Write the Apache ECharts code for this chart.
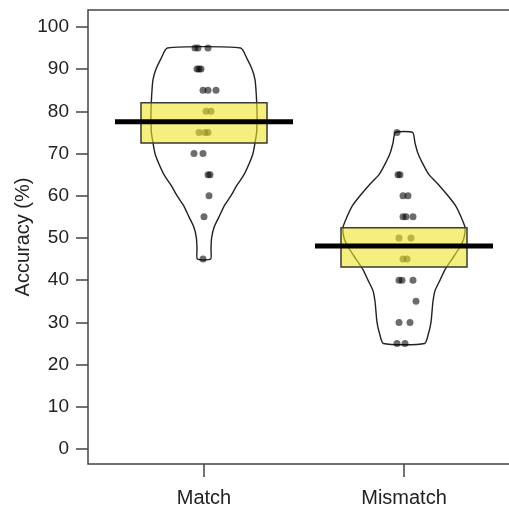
<!DOCTYPE html>
<html>
<head>
<meta charset="utf-8">
<script src="https://cdn.jsdelivr.net/npm/echarts@6/dist/echarts.min.js"></script>
<style>
  html, body { margin: 0; padding: 0; background: #ffffff; }
  #chart { width: 509px; height: 505px; }
</style>
</head>
<body>
<div id="chart"></div>
<script>
// ---------- data ----------
const categories = ['Match', 'Mismatch'];
const catPos = [1, 2];
const yTicks = [0, 10, 20, 30, 40, 50, 60, 70, 80, 90, 100];

// individual observations: jittered x (category units) and accuracy (%)
const matchX = [0.955, 0.97, 1.02, 0.965, 0.975, 0.985, 0.995, 1.02, 1.06, 1.01, 1.035, 0.975, 1.005, 1.02, 0.95, 0.995, 1.02, 1.03, 1.025, 1.0, 0.995];
const matchY = [95, 95, 95, 90, 90, 90, 85, 85, 85, 80, 80, 75, 75, 75, 70, 70, 65, 65, 60, 55, 45];
const mismatchX = [1.965, 1.97, 1.98, 1.995, 2.02, 1.995, 2.01, 2.045, 1.975, 2.035, 1.995, 2.015, 1.975, 1.99, 2.045, 2.06, 1.975, 2.03, 1.965, 2.005];
const mismatchY = [75, 65, 65, 60, 60, 55, 55, 55, 50, 50, 45, 45, 40, 40, 40, 35, 30, 30, 25, 25];

// bean (density) outline: levels and half-widths (category units)
const matchLevels = [45, 47.5, 50, 52.5, 55, 57.5, 60, 62.5, 65, 67.5, 70, 72.5, 75, 77.5, 80, 82.5, 85, 87.5, 90, 92.5, 95];
const matchHalfWidth = [0.033, 0.035, 0.038, 0.05, 0.075, 0.10, 0.135, 0.165, 0.20, 0.225, 0.245, 0.255, 0.263, 0.265, 0.265, 0.263, 0.26, 0.255, 0.24, 0.215, 0.183];
const mismatchLevels = [25, 27.5, 30, 32.5, 35, 37.5, 40, 42.5, 45, 47.5, 50, 52.5, 55, 57.5, 60, 62.5, 65, 67.5, 70, 72.5, 75];
const mismatchHalfWidth = [0.103, 0.123, 0.135, 0.14, 0.145, 0.155, 0.18, 0.205, 0.24, 0.275, 0.30, 0.305, 0.285, 0.26, 0.22, 0.175, 0.125, 0.095, 0.07, 0.055, 0.043];

// means and inference bands
const means = [77.5, 48.1];
const bandLow = [72.5, 43.1];
const bandHigh = [82.0, 52.4];

// ---------- build chart ----------
const levels = [matchLevels, mismatchLevels];
const halfWidths = [matchHalfWidth, mismatchHalfWidth];
const pointSets = [
  matchX.map((x, i) => [x, matchY[i]]),
  mismatchX.map((x, i) => [x, mismatchY[i]])
];

const BAND_HALF = 0.315;
const LINE_HALF = 0.445;
const FONT = '"Liberation Sans", Arial, sans-serif';

const chart = echarts.init(document.getElementById('chart'), null, { renderer: 'canvas' });

chart.setOption({
  animation: false,
  backgroundColor: '#ffffff',
  grid: {
    left: 88, top: 10, width: 432, height: 454,
    outerBoundsMode: 'none', containLabel: false,
    show: true, borderColor: '#444', borderWidth: 1.5, backgroundColor: 'transparent'
  },
  xAxis: {
    type: 'value', min: 0.42, max: 2.58,
    axisLine: { show: false, onZero: false },
    splitLine: { show: false },
    axisTick: { show: true, length: 13, customValues: catPos, lineStyle: { color: '#444', width: 1.5 } },
    axisLabel: {
      customValues: catPos, margin: 24, fontSize: 20, color: '#222', fontFamily: FONT,
      formatter: v => categories[catPos.indexOf(v)]
    }
  },
  yAxis: {
    type: 'value', min: -3.55, max: 104.0,
    name: 'Accuracy (%)', nameLocation: 'middle', nameGap: 55, nameMoveOverlap: false,
    nameTextStyle: { fontSize: 20, color: '#222', fontFamily: FONT },
    axisLine: { show: false, onZero: false },
    splitLine: { show: false },
    axisTick: { show: true, length: 12, customValues: yTicks, lineStyle: { color: '#444', width: 1.5 } },
    axisLabel: { customValues: yTicks, margin: 19, fontSize: 19, color: '#222', fontFamily: FONT }
  },
  series: [
    {
      type: 'custom', z: 1, silent: true,
      data: categories.map((c, i) => [catPos[i], i]),
      encode: { x: 0, y: 1 },
      renderItem: (params, api) => {
        const i = api.value(1);
        const lv = levels[i], hw = halfWidths[i], cx = catPos[i];
        const pts = [];
        for (let k = 0; k < lv.length; k++) pts.push(api.coord([cx + hw[k], lv[k]]));
        for (let k = lv.length - 1; k >= 0; k--) pts.push(api.coord([cx - hw[k], lv[k]]));
        return {
          type: 'polygon',
          shape: { points: pts, smooth: 0.2 },
          style: { fill: 'none', stroke: '#222', lineWidth: 1.4 }
        };
      }
    },
    {
      type: 'scatter', z: 2, name: categories[0],
      data: pointSets[0], symbolSize: 7,
      itemStyle: { color: 'rgba(0,0,0,0.72)' }
    },
    {
      type: 'scatter', z: 2, name: categories[1],
      data: pointSets[1], symbolSize: 7,
      itemStyle: { color: 'rgba(0,0,0,0.72)' }
    },
    {
      type: 'custom', z: 3, silent: true,
      data: categories.map((c, i) => [catPos[i], bandLow[i], bandHigh[i]]),
      encode: { x: 0, y: [1, 2] },
      renderItem: (params, api) => {
        const cx = api.value(0);
        const p1 = api.coord([cx - BAND_HALF, api.value(2)]);
        const p2 = api.coord([cx + BAND_HALF, api.value(1)]);
        return {
          type: 'rect',
          shape: { x: p1[0], y: p1[1], width: p2[0] - p1[0], height: p2[1] - p1[1] },
          style: { fill: 'rgba(236,228,40,0.6)', stroke: '#3a3a30', lineWidth: 1.5 }
        };
      }
    },
    {
      type: 'custom', z: 4, silent: true,
      data: categories.map((c, i) => [catPos[i], means[i]]),
      encode: { x: 0, y: 1 },
      renderItem: (params, api) => {
        const cx = api.value(0), m = api.value(1);
        const a = api.coord([cx - LINE_HALF, m]);
        const b = api.coord([cx + LINE_HALF, m]);
        return {
          type: 'line',
          shape: { x1: a[0], y1: a[1], x2: b[0], y2: b[1] },
          style: { stroke: '#000', lineWidth: 5 }
        };
      }
    }
  ]
});
</script>
</body>
</html>
